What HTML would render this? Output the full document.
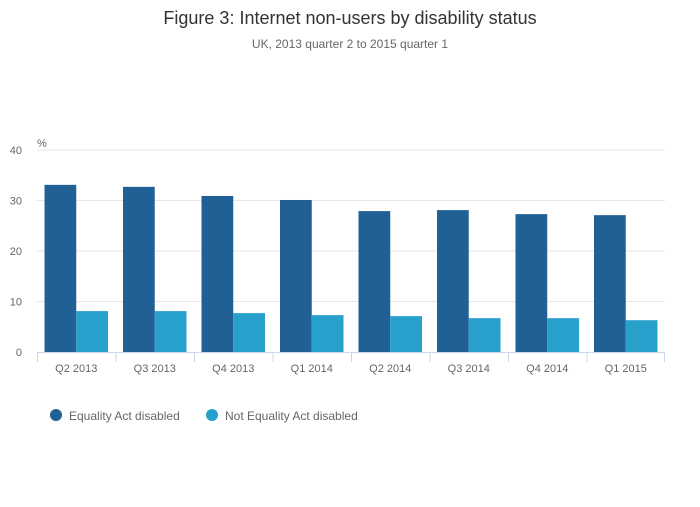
<!DOCTYPE html>
<html><head><meta charset="utf-8"><style>
body{margin:0;background:#fff;font-family:"Liberation Sans",sans-serif;}
</style></head><body>
<svg width="700" height="502" id="c" xmlns="http://www.w3.org/2000/svg">
<text x="350" y="24" text-anchor="middle" font-size="18" fill="#333">Figure 3: Internet non-users by disability status</text>
<text x="350" y="48" text-anchor="middle" font-size="12" fill="#666">UK, 2013 quarter 2 to 2015 quarter 1</text>
<text x="37" y="147" font-size="11" fill="#666">%</text>
<g id="grid"></g><g id="bars"></g><g id="xaxis"></g>
<g>
<g><circle cx="56" cy="415" r="6" fill="#206095"/><text x="69" y="420" font-size="12" fill="#666">Equality Act disabled</text></g>
<g><circle cx="212" cy="415" r="6" fill="#27a0cc"/><text x="225" y="420" font-size="12" fill="#666">Not Equality Act disabled</text></g>
</g>
</svg>
<script>
const categories=["Q2 2013","Q3 2013","Q4 2013","Q1 2014","Q2 2014","Q3 2014","Q4 2014","Q1 2015"];
const disabled=[33.1,32.7,30.9,30.1,27.9,28.1,27.3,27.1];
const notDisabled=[8.1,8.1,7.7,7.3,7.1,6.7,6.7,6.3];
const yTicks=[0,10,20,30,40];
const NS="http://www.w3.org/2000/svg";
const x0=37,x1=665,y0=352,y1=150,yMax=40;
const bw=(x1-x0)/categories.length;
function y(v){return y0-(v/yMax)*(y0-y1);}
function mk(t,a,p){const e=document.createElementNS(NS,t);for(const k in a)e.setAttribute(k,a[k]);p.appendChild(e);return e;}
const g=document.getElementById('grid'),b=document.getElementById('bars'),xa=document.getElementById('xaxis');
yTicks.forEach(t=>{
 if(t>0){const l=mk('line',{x1:x0,x2:x1,y1:y(t),y2:y(t),stroke:'#e6e6e6'},g);
 
 }
 const tx=mk('text',{x:22,y:y(t)+4,'text-anchor':'end','font-size':11,fill:'#666'},g);tx.textContent=t;
 
 
});
const ax=mk('line',{x1:x0,x2:x1,y1:y0+0.5,y2:y0+0.5,stroke:'#ccd6eb'},xa);


categories.forEach((c,i)=>{
 const cx=x0+i*bw, w=(bw-15)/2;
 const r1=mk('rect',{x:cx+7.5,y:y(disabled[i]),width:w,height:y0-y(disabled[i]),fill:'#206095'},b);
 
 
 const r2=mk('rect',{x:cx+7.5+w,y:y(notDisabled[i]),width:w,height:y0-y(notDisabled[i]),fill:'#27a0cc'},b);
 
 
 const tk=mk('line',{x1:cx+0.5,x2:cx+0.5,y1:y0,y2:y0+10,stroke:'#ccd6eb'},xa);
 
 
 const t=mk('text',{x:cx+bw/2,y:372,'text-anchor':'middle','font-size':11,fill:'#666'},xa);t.textContent=c;
 
 
});
const le=mk('line',{x1:x1-0.5,x2:x1-0.5,y1:y0,y2:y0+10,stroke:'#ccd6eb'},xa);


</script>
</body></html>
